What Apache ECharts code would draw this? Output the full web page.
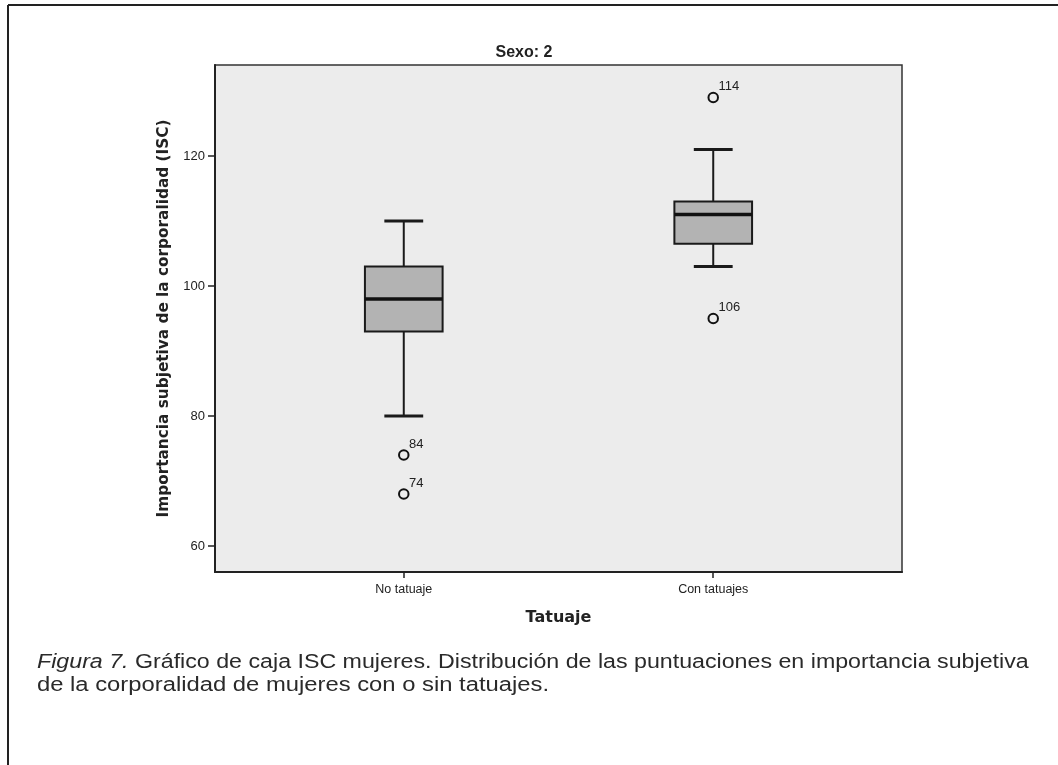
<!DOCTYPE html>
<html>
<head>
<meta charset="utf-8">
<script src="https://cdn.jsdelivr.net/npm/echarts@6/dist/echarts.min.js"></script>
<style>
html,body{margin:0;padding:0;background:#fff;}
#chart{width:1058px;height:765px;}
</style>
</head>
<body>
<div id="chart"></div>
<script>
// ---- data ----
const categories = ['No tatuaje', 'Con tatuajes'];
const boxMin    = [80, 103];
const boxQ1     = [93, 106.5];
const boxMedian = [98, 111];
const boxQ3     = [103, 113];
const boxMax    = [110, 121];
const outlierCategory = [0, 0, 1, 1];
const outlierValue    = [74, 68, 129, 95];
const outlierCase     = ['84', '74', '114', '106'];
const yTickValues = [60, 80, 100, 120];
const chartTitle = 'Sexo: 2';
const yAxisTitle = 'Importancia subjetiva de la corporalidad (ISC)';
const xAxisTitle = 'Tatuaje';
const captionItalic = 'Figura 7.';
const captionLine1 = ' Gráfico de caja ISC mujeres. Distribución de las puntuaciones en importancia subjetiva';
const captionLine2 = 'de la corporalidad de mujeres con o sin tatuajes.';

// ---- build series data ----
const boxData = categories.map((c, i) => [i + 1, boxMin[i], boxQ1[i], boxMedian[i], boxQ3[i], boxMax[i]]);
const outlierData = outlierValue.map((v, i) => ({ value: [outlierCategory[i] + 1, v], name: outlierCase[i] }));

const BOX_W = 0.251;

function renderBox(params, api) {
  const x = api.value(0);
  const pMin = api.coord([x, api.value(1)]);
  const pQ1 = api.coord([x, api.value(2)]);
  const pMed = api.coord([x, api.value(3)]);
  const pQ3 = api.coord([x, api.value(4)]);
  const pMax = api.coord([x, api.value(5)]);
  const hw = api.size([BOX_W, 0])[0] / 2;
  const cw = hw / 2;
  const cx = pMed[0];
  const stroke = { stroke: '#1a1a1a', lineWidth: 2 };
  return {
    type: 'group',
    children: [
      { type: 'line', shape: { x1: cx, y1: pMax[1], x2: cx, y2: pQ3[1] }, style: stroke },
      { type: 'line', shape: { x1: cx, y1: pQ1[1], x2: cx, y2: pMin[1] }, style: stroke },
      { type: 'line', shape: { x1: cx - cw, y1: pMax[1], x2: cx + cw, y2: pMax[1] }, style: { stroke: '#1a1a1a', lineWidth: 2.8 } },
      { type: 'line', shape: { x1: cx - cw, y1: pMin[1], x2: cx + cw, y2: pMin[1] }, style: { stroke: '#1a1a1a', lineWidth: 2.8 } },
      { type: 'rect', shape: { x: cx - hw, y: pQ3[1], width: 2 * hw, height: pQ1[1] - pQ3[1] },
        style: { fill: '#b3b3b3', stroke: '#1a1a1a', lineWidth: 2 } },
      { type: 'line', shape: { x1: cx - hw, y1: pMed[1], x2: cx + hw, y2: pMed[1] }, style: { stroke: '#111', lineWidth: 3.5 } }
    ]
  };
}

const chart = echarts.init(document.getElementById('chart'), null, { renderer: 'canvas' });
chart.setOption({
  backgroundColor: '#ffffff',
  animation: false,
  title: {
    text: chartTitle,
    left: 519,
    top: 40,
    textAlign: 'center',
    textStyle: { fontFamily: 'Liberation Sans', fontWeight: 'bold', fontSize: 16, color: '#222' }
  },
  grid: {
    left: 215, top: 65, width: 687, height: 507,
    show: true, backgroundColor: '#ececec', borderColor: '#333', borderWidth: 1.5
  },
  xAxis: {
    type: 'value',
    min: 0.39, max: 2.61,
    name: xAxisTitle,
    nameLocation: 'middle',
    nameGap: 38,
    nameTextStyle: { fontFamily: 'DejaVu Sans', fontWeight: 'bold', fontSize: 16, color: '#222' },
    axisLine: { show: true, onZero: false, lineStyle: { color: '#222', width: 2 } },
    axisTick: { show: true, customValues: [1, 2], length: 6, lineStyle: { color: '#222', width: 1.5 } },
    axisLabel: {
      customValues: [1, 2],
      formatter: v => categories[Math.round(v) - 1],
      fontFamily: 'Liberation Sans', fontSize: 12.5, color: '#222', margin: 11
    },
    splitLine: { show: false }
  },
  yAxis: {
    type: 'value',
    min: 56, max: 134,
    name: yAxisTitle,
    nameLocation: 'middle',
    nameGap: 43,
    nameRotate: 90,
    nameTextStyle: { fontFamily: 'DejaVu Sans', fontWeight: 'bold', fontSize: 15.3, color: '#222' },
    axisLine: { show: true, onZero: false, lineStyle: { color: '#222', width: 2 } },
    axisTick: { show: true, customValues: yTickValues, length: 7, lineStyle: { color: '#222', width: 1.5 } },
    axisLabel: { customValues: yTickValues, fontFamily: 'Liberation Sans', fontSize: 13, color: '#222', margin: 10 },
    splitLine: { show: false }
  },
  series: [
    {
      type: 'custom',
      renderItem: renderBox,
      encode: { x: 0, y: [1, 2, 3, 4, 5] },
      data: boxData,
      z: 2
    },
    {
      type: 'scatter',
      data: outlierData,
      symbol: 'circle',
      symbolSize: 9.5,
      itemStyle: { color: '#ececec', borderColor: '#111', borderWidth: 2, opacity: 1 },
      label: {
        show: true,
        formatter: p => p.name,
        position: 'right',
        offset: [-5.5, -11],
        fontFamily: 'Liberation Sans', fontSize: 13, color: '#222'
      },
      z: 3
    }
  ],
  graphic: [
    { type: 'line', shape: { x1: 8, y1: 5, x2: 1058, y2: 5 }, style: { stroke: '#222', lineWidth: 2 } },
    { type: 'line', shape: { x1: 8, y1: 5, x2: 8, y2: 765 }, style: { stroke: '#222', lineWidth: 2 } },
    {
      type: 'text', x: 37, y: 652, scaleX: 1.16,
      style: {
        rich: { i: { fontStyle: 'italic', fontFamily: 'Liberation Sans', fontSize: 20, fill: '#2a2a2a' },
                n: { fontFamily: 'Liberation Sans', fontSize: 20, fill: '#2a2a2a' } },
        text: '{i|' + captionItalic + '}{n|' + captionLine1 + '}'
      }
    },
    {
      type: 'text', x: 37, y: 675, scaleX: 1.19,
      style: { text: captionLine2, fontFamily: 'Liberation Sans', fontSize: 20, fill: '#2a2a2a' }
    }
  ]
});
</script>
</body>
</html>
